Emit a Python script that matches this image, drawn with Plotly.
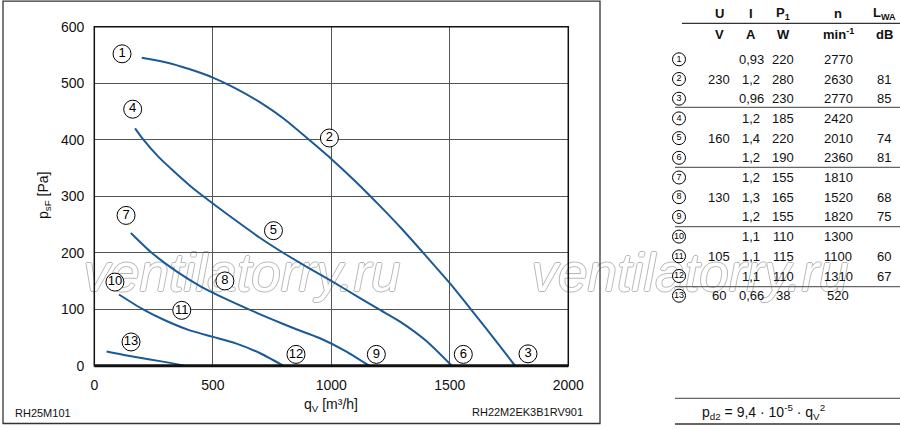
import plotly.graph_objects as go

# ---------------- data ----------------
q_230 = [200, 300, 400, 500, 600, 700, 800, 900, 1000, 1100, 1200, 1300, 1400, 1500, 1600, 1700, 1775]
p_230 = [545, 537, 525, 510, 490, 466, 437, 402, 366, 327, 285, 241, 194, 146, 94, 41, 0]
q_160 = [172, 207, 270, 333, 400, 453, 500, 600, 700, 800, 900, 1000, 1100, 1200, 1290, 1400, 1508]
p_160 = [420, 400, 370, 345, 320, 302, 287, 256, 226, 199, 174, 150, 125, 100, 78, 44, 0]
q_130 = [154, 242, 350, 450, 550, 650, 750, 850, 950, 1060, 1160]
p_130 = [235, 200, 166, 140, 119, 100, 82, 65, 49, 26, 0]
q_105 = [104, 200, 300, 400, 500, 600, 700, 797]
p_105 = [126, 101, 80, 63, 51, 39, 22, 0]
q_60 = [52, 137, 235, 320, 380]
p_60 = [25, 18, 11, 5, 0]

label_num = [str(i) for i in range(1, 14)]
label_q = [117, 992, 1830, 162, 756, 1557, 134, 551, 1190, 87, 369, 851, 155]
label_p = [552, 403, 21, 454, 239, 20, 266, 150, 20, 148, 98, 20, 42]

x_ticks = [0, 500, 1000, 1500, 2000]
y_ticks = [0, 100, 200, 300, 400, 500, 600]

tab_U = ["", "230", "", "", "160", "", "", "130", "", "", "105", "", "60"]
tab_I = ["0,93", "1,2", "0,96", "1,2", "1,4", "1,2", "1,2", "1,3", "1,2", "1,1", "1,1", "1,1", "0,66"]
tab_P = ["220", "280", "230", "185", "220", "190", "155", "165", "155", "110", "115", "110", "38"]
tab_n = ["2770", "2630", "2770", "2420", "2010", "2360", "1810", "1520", "1820", "1300", "1100", "1310", "520"]
tab_L = ["", "81", "85", "", "74", "81", "", "68", "75", "", "60", "67", ""]
tab_head1 = ["U", "I", "P<sub>1</sub>", "n", "L<sub>WA</sub>"]
tab_head2 = ["V", "A", "W", "min<sup>-1</sup>", "dB"]

# ---------------- layout constants ----------------
W, H = 900, 429
FONT = "Liberation Sans, Arial, Helvetica, sans-serif"
BLUE = "#1b5a96"
ax_l, ax_r, ax_t, ax_b = 94.3, 568.3, 26.7, 365.7

fig = go.Figure()

# pixel-space overlay (x/y) for watermark and table
wm_shadow = "1px 0 #b8b8b8, -1px 0 #b8b8b8, 0 1px #b8b8b8, 0 -1px #b8b8b8"
fig.add_trace(go.Scatter(
    x=[242, 690], y=[278, 278], mode="text", text=["ventilatorry.ru", "ventilatorry.ru"],
    textfont=dict(family=FONT, size=53, color="white", style="italic", shadow=wm_shadow),
    xaxis="x", yaxis="y", hoverinfo="skip", showlegend=False, cliponaxis=False))

col_x = [719, 751, 783, 838, 884]
row_y0, row_dy = 59.3, 19.7
rows_y = [row_y0 + row_dy * i for i in range(13)]
fig.add_trace(go.Scatter(
    x=[679] * 13, y=rows_y, mode="markers+text", text=label_num,
    marker=dict(size=13, color="white", line=dict(color="black", width=1)),
    textfont=dict(family=FONT, size=9, color="black"), textposition="middle center",
    xaxis="x", yaxis="y", hoverinfo="skip", showlegend=False, cliponaxis=False))

# chart curves (x2/y2)
for q, p in [(q_230, p_230), (q_160, p_160), (q_130, p_130), (q_105, p_105), (q_60, p_60)]:
    fig.add_trace(go.Scatter(x=q, y=p, mode="lines", line=dict(color=BLUE, width=2, shape="spline", smoothing=0.6),
                             xaxis="x2", yaxis="y2", hoverinfo="skip", showlegend=False))

fig.add_trace(go.Scatter(
    x=label_q, y=label_p, mode="markers+text", text=label_num,
    marker=dict(size=18, color="white", line=dict(color="black", width=1)),
    textfont=dict(family=FONT, size=13, color="black"), textposition="middle center",
    xaxis="x2", yaxis="y2", hoverinfo="skip", showlegend=False, cliponaxis=False))

ann = []
def txt(x, y, s, size=13, xanchor="center", bold=False, **kw):
    ann.append(dict(x=x, y=y, xref="x", yref="y", text=s, showarrow=False, xanchor=xanchor, yanchor="middle",
                    font=dict(family=FONT, size=size, color="#111", weight="bold" if bold else "normal"), **kw))

for cx, h1, h2 in zip(col_x, tab_head1, tab_head2):
    txt(cx, 13, h1, size=13, bold=True)
    txt(cx, 34, h2, size=13, bold=True)
for i, y in enumerate(rows_y):
    for cx, col in zip(col_x, [tab_U, tab_I, tab_P, tab_n, tab_L]):
        if col[i]:
            txt(cx, y, col[i], size=13)

txt(763, 411.5, "p<sub>d2</sub> = 9,4 · 10<sup>-5</sup> · q<sub>V</sub><sup>2</sup>", size=14)
txt(331, 405, "q<sub>V</sub> [m³/h]", size=14)
txt(44, 196, "p<sub>sF</sub> [Pa]", size=14, textangle=-90)
txt(13, 413, "RH25M101", size=11, xanchor="left")
txt(585, 412, "RH22M2EK3B1RV901", size=11, xanchor="right")

shapes = []
def hline(y, x0, x1, color="#555", width=1.3):
    shapes.append(dict(type="line", xref="x", yref="y", x0=x0, x1=x1, y0=y, y1=y,
                       line=dict(color=color, width=width)))
hline(23.3, 682, 900, "#333")
for y in [107.3, 167.3, 226.7, 286.7]:
    hline(y, 675, 900, "#666")
hline(398.3, 675, 900, "#666")
hline(424, 675, 900, "#333")

# outer frame
shapes.append(dict(type="rect", xref="x", yref="y", x0=3, x1=600, y0=1.2, y1=423.5,
                   line=dict(color="#333", width=1.3)))
# plot box and thick base line
shapes.append(dict(type="rect", xref="x2 domain", yref="y2 domain", x0=0, x1=1, y0=0, y1=1,
                   line=dict(color="#111", width=1.5)))
shapes.append(dict(type="line", xref="x2 domain", yref="y2 domain", x0=0, x1=1, y0=0, y1=0,
                   line=dict(color="#111", width=3)))

fig.update_layout(
    width=W, height=H, autosize=False, margin=dict(l=0, r=0, t=0, b=0, pad=0),
    paper_bgcolor="white", plot_bgcolor="rgba(0,0,0,0)",
    font=dict(family=FONT, color="#111"),
    annotations=ann, shapes=shapes, showlegend=False,
    xaxis=dict(domain=[0, 1], range=[0, W], visible=False, fixedrange=True, anchor="y", automargin=False),
    yaxis=dict(domain=[0, 1], range=[H, 0], visible=False, fixedrange=True, anchor="x", automargin=False),
    xaxis2=dict(domain=[ax_l / W, ax_r / W], range=[0, 2000], anchor="y2", automargin=False,
                tickvals=x_ticks, ticktext=[str(v) for v in x_ticks],
                showgrid=True, gridcolor="#555", gridwidth=1.4, zeroline=False, showline=False,
                ticks="", ticklabelstandoff=9, tickfont=dict(family=FONT, size=14, color="#111")),
    yaxis2=dict(domain=[1 - ax_b / H, 1 - ax_t / H], range=[0, 600], anchor="x2", automargin=False,
                tickvals=y_ticks, ticktext=[str(v) for v in y_ticks],
                showgrid=True, gridcolor="#555", gridwidth=1.4, zeroline=False, showline=False,
                ticks="", ticklabelstandoff=9, tickfont=dict(family=FONT, size=14, color="#111")),
)

fig.write_html(
    "out.html",
    config={"responsive": False, "displayModeBar": False},
    post_script="document.body.style.margin='0px';document.documentElement.style.overflow='hidden';",
)
